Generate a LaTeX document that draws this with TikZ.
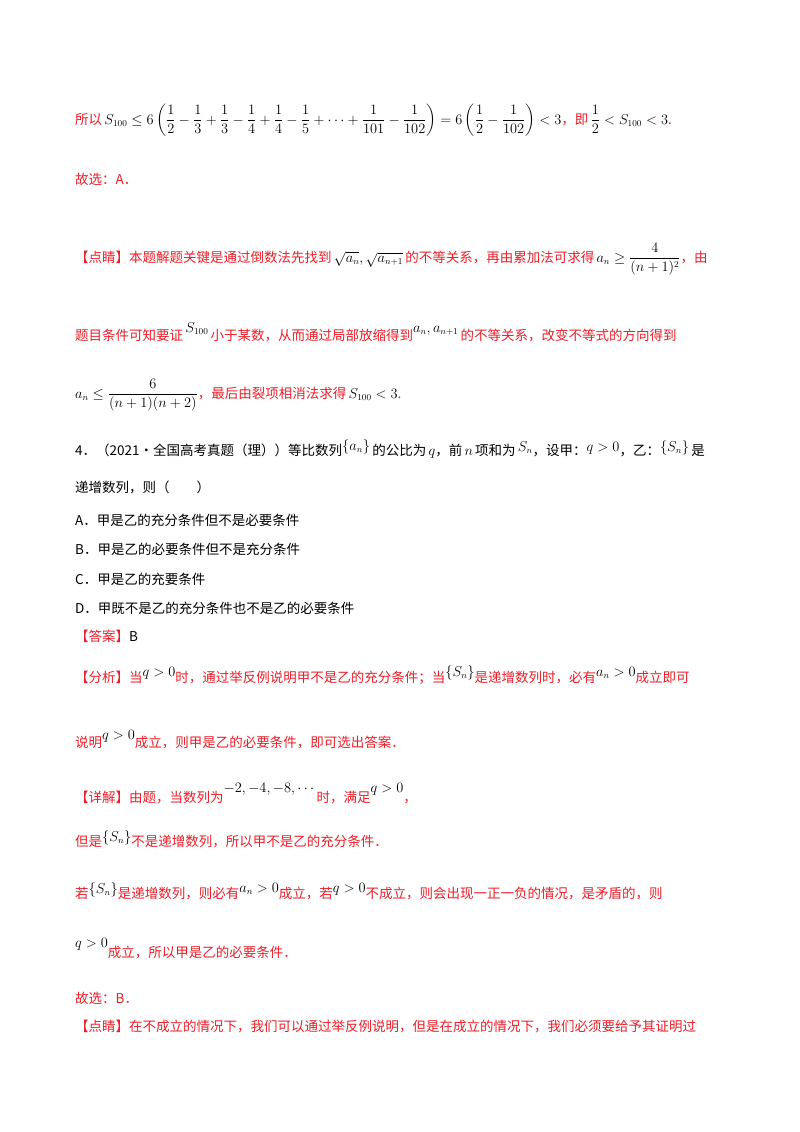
\documentclass[tikz,border=0pt]{standalone}
\usepackage{fontspec}
\usepackage{amsmath,amssymb}
\newfontfamily\cjk{Noto Sans CJK SC}
\definecolor{rd}{RGB}{235,30,40}
\begin{document}
\begin{tikzpicture}[x=1pt,y=-1pt,
  tx/.style={anchor=base west,inner sep=0pt,font=\cjk\fontsize{13.5}{16}\selectfont},
  r/.style={tx,text=rd}]
\useasboundingbox (0,0) rectangle (800,1132);
\node[r] (l1) at (75,124) {所以\,\textcolor{black}{$S_{100}\le 6\left(\dfrac12-\dfrac13+\dfrac13-\dfrac14+\dfrac14-\dfrac15+\cdots+\dfrac1{101}-\dfrac1{102}\right)=6\left(\dfrac12-\dfrac1{102}\right)<3$}，即\,\textcolor{black}{$\dfrac12<S_{100}<3$}.};
\node[r] (l2) at (75,184) {故选：A．};
\node[r] (l3) at (75,262) {【点睛】本题解题关键是通过倒数法先找到\,\textcolor{black}{$\sqrt{a_n},\sqrt{a_{n+1}}$}\,的不等关系，再由累加法可求得\,\textcolor{black}{$a_n\ge\dfrac{4}{(n+1)^2}$}，由};
\node[r] (l4) at (75,340) {题目条件可知要证\,\textcolor{black}{\raisebox{8pt}{$S_{100}$}}\,小于某数，从而通过局部放缩得到\textcolor{black}{\raisebox{8pt}{$a_n,a_{n+1}$}}\,的不等关系，改变不等式的方向得到};
\node[r] (l5) at (75,398) {\textcolor{black}{$a_n\le\dfrac{6}{(n+1)(n+2)}$}，最后由裂项相消法求得\,\textcolor{black}{$S_{100}<3$}.};
\node[tx] (q4) at (75,455) {4．（2021·全国高考真题（理））等比数列\raisebox{5pt}{$\{a_n\}$}\,的公比为\,$q$，前\,$n$\,项和为\,\raisebox{4pt}{$S_n$}，设甲：\raisebox{4pt}{$q>0$}，乙：\raisebox{4pt}{$\{S_n\}$}\,是};
\node[tx] (q4b) at (75,492) {递增数列，则（\quad\quad）};
\node[tx] (oa) at (75,525) {A．甲是乙的充分条件但不是必要条件};
\node[tx] (ob) at (75,554) {B．甲是乙的必要条件但不是充分条件};
\node[tx] (oc) at (75,584) {C．甲是乙的充要条件};
\node[tx] (od) at (75,613) {D．甲既不是乙的充分条件也不是乙的必要条件};
\node[tx] (ans) at (75,641) {\textcolor{rd}{【答案】}B};
\node[r] (an1) at (75,682) {【分析】当\textcolor{black}{\raisebox{6pt}{$q>0$}}时，通过举反例说明甲不是乙的充分条件；当\textcolor{black}{\raisebox{6pt}{$\{S_n\}$}}是递增数列时，必有\textcolor{black}{\raisebox{6pt}{$a_n>0$}}成立即可};
\node[r] (an2) at (75,747) {说明\textcolor{black}{\raisebox{8pt}{$q>0$}}成立，则甲是乙的必要条件，即可选出答案．};
\node[r] (d1) at (75,802) {【详解】由题，当数列为\textcolor{black}{\raisebox{10pt}{$-2,-4,-8,\cdots$}}时，满足\textcolor{black}{\raisebox{10pt}{$q>0$}}，};
\node[r] (d2) at (75,846) {但是\textcolor{black}{\raisebox{5pt}{$\{S_n\}$}}不是递增数列，所以甲不是乙的充分条件．};
\node[r] (d3) at (75,898) {若\textcolor{black}{\raisebox{5pt}{$\{S_n\}$}}是递增数列，则必有\textcolor{black}{\raisebox{6pt}{$a_n>0$}}成立，若\textcolor{black}{\raisebox{6pt}{$q>0$}}不成立，则会出现一正一负的情况，是矛盾的，则};
\node[r] (d4) at (75,957) {\textcolor{black}{\raisebox{10pt}{$q>0$}}成立，所以甲是乙的必要条件．};
\node[r] (g2) at (75,1003) {故选：B．};
\node[r] (e1) at (75,1031) {【点睛】在不成立的情况下，我们可以通过举反例说明，但是在成立的情况下，我们必须要给予其证明过};
\end{tikzpicture}
\end{document}
